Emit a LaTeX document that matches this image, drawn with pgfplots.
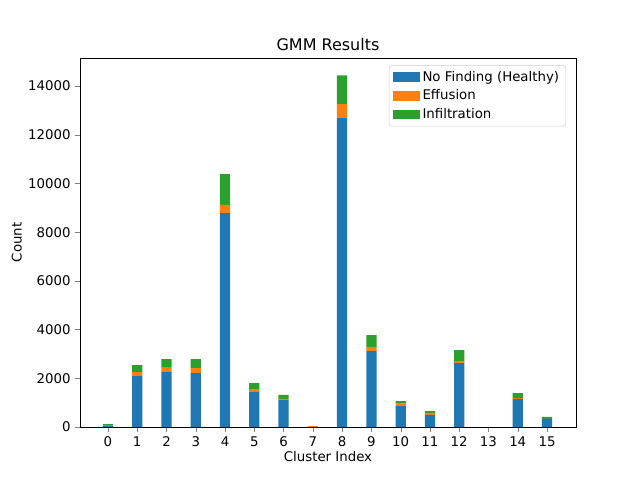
\documentclass[border=0pt]{standalone}
\usepackage{pgfplots}
\pgfplotsset{compat=1.18}
\usepackage{fontspec}
\setmainfont{DejaVu Sans}
\definecolor{mblue}{HTML}{1F77B4}
\definecolor{morange}{HTML}{FF7F0E}
\definecolor{mgreen}{HTML}{2CA02C}
\begin{document}
\fontsize{10}{12}\selectfont
\begin{tikzpicture}
\useasboundingbox (-60pt,-39.75pt) rectangle (420pt,320.25pt);
\begin{axis}[at={(0,0)},anchor=south west,
 scale only axis, width=372pt, height=276.75pt,
 ybar stacked, bar width=0.35,
 xmin=-0.955, xmax=15.99, ymin=0, ymax=15150,
 xtick={0,...,15}, ytick={0,2000,...,14000},
 scaled y ticks=false,
 /pgf/number format/assume math mode=true,
 /pgf/number format/1000 sep={},
 tick label style={font=\fontsize{10}{12}\selectfont},
 label style={font=\fontsize{10}{12}\selectfont},
 tick align=outside, tick pos=left,
 major tick length=3.5pt,
 xlabel={Cluster Index}, ylabel={Count},
 xlabel style={yshift=3pt}, ylabel style={yshift=-2pt},
 title={GMM Results}, title style={font=\fontsize{12}{14}\selectfont, yshift=-4pt},
 legend style={at={(0.98,0.98)},anchor=north east, font=\fontsize{10}{12}\selectfont, draw=black!20, rounded corners=2pt, row sep=1pt},
 legend cell align=left,
 legend image code/.code={\fill[#1,draw=none,sharp corners] (0pt,-3.5pt) rectangle (20pt,3.5pt);},
]
\addplot[fill=mblue, draw=none] coordinates {(0,70)(1,2094)(2,2258)(3,2217)(4,8785)(5,1437)(6,1108)(7,0)(8,12700)(9,3120)(10,862)(11,493)(12,2627)(13,0)(14,1150)(15,330)};
\addplot[fill=morange, draw=none] coordinates {(0,5)(1,164)(2,205)(3,205)(4,330)(5,123)(6,42)(7,40)(8,560)(9,164)(10,95)(11,82)(12,82)(13,0)(14,40)(15,5)};
\addplot[fill=mgreen, draw=none] coordinates {(0,45)(1,287)(2,327)(3,368)(4,1270)(5,246)(6,164)(7,0)(8,1180)(9,493)(10,110)(11,82)(12,452)(13,0)(14,206)(15,80)};
\legend{No Finding (Healthy),Effusion,Infiltration}
\end{axis}
\end{tikzpicture}
\end{document}
